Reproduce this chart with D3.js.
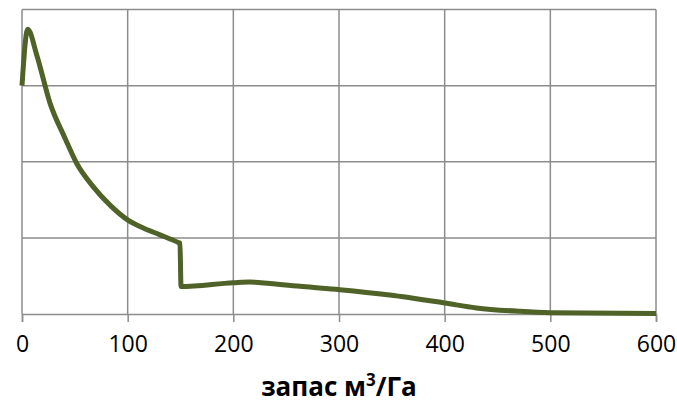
<!DOCTYPE html>
<html>
<head>
<meta charset="utf-8">
<script src="https://cdn.jsdelivr.net/npm/d3@7"></script>
<style>
  body { margin: 0; background: #fff; }
  svg { display: block; }
</style>
</head>
<body>
<div id="chart"></div>
<script>
// stock, m3/ha
const stock = [0, 5.4, 14, 26.5, 40.7, 51.7, 67.5, 83.3, 100.6, 114.8, 130.6, 147.9, 149.5,
  150.5, 200, 215.6, 234.6, 265.8, 300.8, 348, 400, 430, 471, 500, 600];
// value (y axis has no labels, gridlines at 1..4)
const values = [3.0, 3.74, 3.40, 2.77, 2.31, 1.98, 1.67, 1.43, 1.23, 1.13, 1.04, 0.94, 0.93,
  0.36, 0.41, 0.42, 0.40, 0.36, 0.32, 0.25, 0.145, 0.08, 0.035, 0.018, 0.007];
const xTicks = [0, 100, 200, 300, 400, 500, 600];
const yGrid = [1, 2, 3, 4];
const xTitle = 'запас м';

const W = 677, H = 406;
const margin = { left: 22, right: 21, top: 9.5, bottom: 92 };

const svg = d3.select('#chart').append('svg')
  .attr('width', W)
  .attr('height', H);

const x = d3.scaleLinear().domain([0, 600]).range([margin.left, W - margin.right]);
const y = d3.scaleLinear().domain([0, 4]).range([H - margin.bottom, margin.top]);

const gridColor = '#8c8c8c';

// horizontal gridlines
svg.append('g')
  .selectAll('line')
  .data(yGrid)
  .join('line')
  .attr('x1', x(0))
  .attr('x2', x(600))
  .attr('y1', d => y(d))
  .attr('y2', d => y(d))
  .attr('stroke', gridColor)
  .attr('stroke-width', 1.5);

// vertical gridlines
svg.append('g')
  .selectAll('line')
  .data(xTicks)
  .join('line')
  .attr('x1', d => x(d))
  .attr('x2', d => x(d))
  .attr('y1', y(4))
  .attr('y2', y(0))
  .attr('stroke', gridColor)
  .attr('stroke-width', 1.5);

// x axis
const xAxis = d3.axisBottom(x)
  .tickValues(xTicks)
  .tickSize(8)
  .tickPadding(14)
  .tickFormat(d3.format('d'));

const gx = svg.append('g')
  .attr('transform', `translate(0,${y(0)})`)
  .call(xAxis);

gx.select('.domain').attr('stroke', gridColor).attr('stroke-width', 1.5);
gx.selectAll('.tick line').attr('stroke', gridColor).attr('stroke-width', 1.5);
gx.selectAll('.tick text')
  .attr('font-family', '"Open Sans", sans-serif')
  .attr('font-size', 23)
  .attr('fill', '#000');

// axis title
const title = svg.append('text')
  .attr('x', (x(0) + x(600)) / 2)
  .attr('y', 396)
  .attr('text-anchor', 'middle')
  .attr('font-family', '"Open Sans", sans-serif')
  .attr('font-size', 26)
  .attr('font-weight', 'bold')
  .attr('fill', '#000');
title.append('tspan').text(xTitle);
title.append('tspan').attr('dy', -10).attr('font-size', 17).text('3');
title.append('tspan').attr('dy', 10).text('/Га');

// the curve
const line = d3.line()
  .x((d, i) => x(stock[i]))
  .y(d => y(d))
  .curve(d3.curveMonotoneX);

svg.append('path')
  .datum(values)
  .attr('d', line)
  .attr('fill', 'none')
  .attr('stroke', '#4f6228')
  .attr('stroke-width', 5)
  .attr('stroke-linejoin', 'round');
</script>
</body>
</html>
